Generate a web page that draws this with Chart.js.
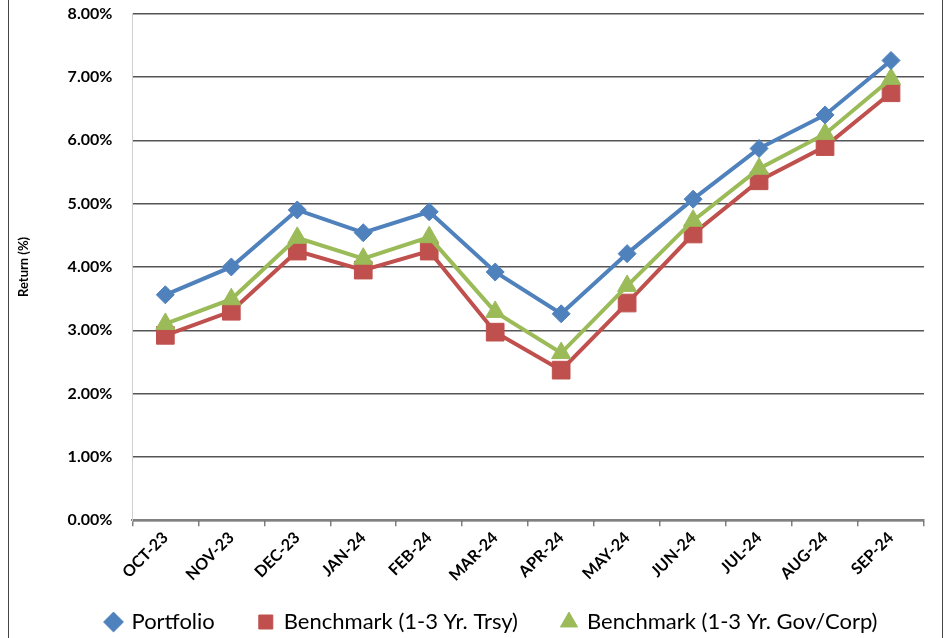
<!DOCTYPE html>
<html>
<head>
<meta charset="utf-8">
<script src="https://cdn.jsdelivr.net/npm/chart.js@4.4.1/dist/chart.umd.min.js"></script>
<style>
  body { margin: 0; background: #fff; }
  #wrap { position: relative; width: 948px; height: 638px; overflow: hidden; }
  #frame { position: absolute; left: 8px; top: -4px; width: 935px; height: 660px; border: 1.5px solid #444; box-sizing: border-box; }
  canvas { position: absolute; left: 0; top: 0; }
</style>
</head>
<body>
<div id="wrap">
  <div id="frame"></div>
  <canvas id="returns" width="948" height="638"></canvas>
</div>
<script>
//----- DATA -----//
const months = ['OCT-23', 'NOV-23', 'DEC-23', 'JAN-24', 'FEB-24', 'MAR-24',
                'APR-24', 'MAY-24', 'JUN-24', 'JUL-24', 'AUG-24', 'SEP-24'];

const portfolio = [3.56, 4.00, 4.90, 4.54, 4.87, 3.92, 3.26, 4.21, 5.07, 5.87, 6.40, 7.26];
const trsy      = [2.92, 3.30, 4.25, 3.95, 4.25, 2.97, 2.37, 3.43, 4.52, 5.36, 5.90, 6.75];
const govCorp   = [3.10, 3.49, 4.46, 4.13, 4.47, 3.29, 2.64, 3.70, 4.73, 5.55, 6.10, 6.97];

const yTicks = [0, 1, 2, 3, 4, 5, 6, 7, 8];

//----- CONFIG -----//
const font = "Lato, 'Open Sans', sans-serif";

function series(label, values, color, style, radius, order) {
    return {
        label: label,
        data: values,
        borderColor: color,
        backgroundColor: color,
        pointBackgroundColor: color,
        pointBorderColor: color,
        pointStyle: style,
        pointRadius: radius,
        pointBorderWidth: 1,
        borderWidth: 4,
        tension: 0,
        fill: false,
        order: order
    };
}

// legend keeps wide gaps between items but not the tall box that padding gives it
const legendSpacing = {
    id: 'legendSpacing',
    beforeInit(chart) {
        const legend = chart.legend;
        const fit = legend.fit;
        legend.fit = function () { fit.call(this); this.height = 47; };
        const draw = legend.draw;
        legend.draw = function () {
            const { top, left, right } = this;
            this.top -= 20;
            this.left += 22;
            this.right += 22;
            draw.call(this);
            Object.assign(this, { top, left, right });
        };
    }
};

const config = {
    type: 'line',
    data: {
        labels: months,
        datasets: [
            series('Portfolio', portfolio, '#4F81BD', 'rectRot', 9, 0),
            series('Benchmark (1-3 Yr. Trsy)', trsy, '#C0504D', 'rect', 12.5, 2),
            series('Benchmark (1-3 Yr. Gov/Corp)', govCorp, '#9BBB59', 'triangle', 11, 1)
        ]
    },
    options: {
        responsive: false,
        animation: false,
        layout: { padding: { left: 16, right: 24, top: 0, bottom: 4 } },
        plugins: {
            tooltip: { enabled: false },
            legend: {
                position: 'bottom',
                labels: {
                    usePointStyle: true,
                    boxWidth: 14,
                    boxHeight: 14,
                    padding: 44,
                    color: '#000',
                    font: { family: font, size: 22 },
                    sort: (a, b) => a.datasetIndex - b.datasetIndex
                }
            }
        },
        scales: {
            x: {
                offset: true,
                grid: {
                    drawOnChartArea: false,
                    offset: true,
                    tickLength: 6,
                    color: '#808080',
                    lineWidth: 1.5
                },
                border: { color: '#808080', width: 2 },
                ticks: {
                    color: '#000',
                    maxRotation: 45,
                    minRotation: 45,
                    padding: 2,
                    font: { family: font, size: 16, weight: 'bold' }
                }
            },
            y: {
                min: 0,
                max: 8,
                afterBuildTicks: axis => { axis.ticks = yTicks.map(v => ({ value: v })); },
                grid: {
                    drawTicks: true,
                    tickLength: 16,
                    tickColor: 'transparent',
                    color: '#555555',
                    lineWidth: 1.5
                },
                border: { color: '#d0d0d0', width: 1 },
                ticks: {
                    color: '#000',
                    padding: 4,
                    font: { family: font, size: 16, weight: 'bold' },
                    callback: v => v.toFixed(2) + '%'
                },
                title: {
                    display: true,
                    text: 'Return (%)',
                    color: '#000',
                    padding: { top: 0, bottom: 32 },
                    font: { family: font, size: 13, weight: 'bold' }
                }
            }
        }
    },
    plugins: [legendSpacing]
};

//----- RENDER -----//
const returnsChart = new Chart(document.getElementById('returns'), config);
</script>
</body>
</html>
